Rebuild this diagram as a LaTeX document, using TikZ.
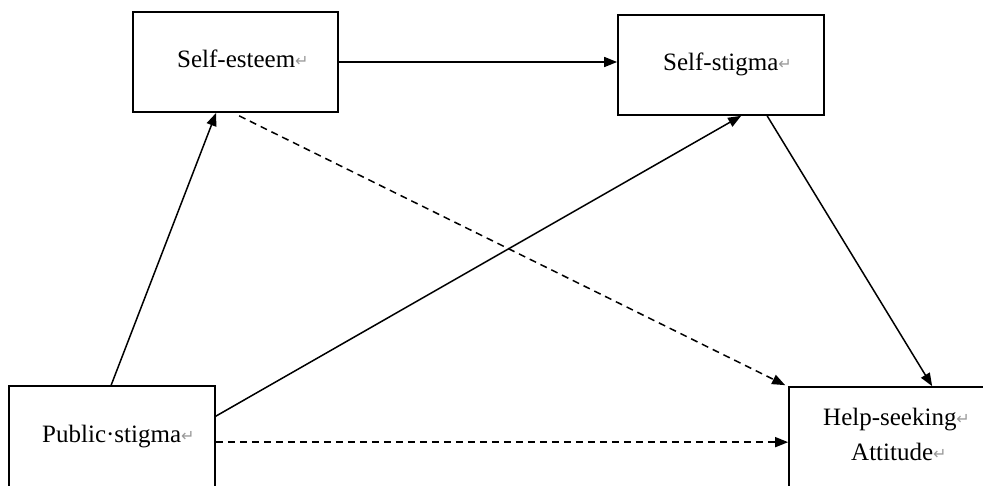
\documentclass[tikz,border=0pt]{standalone}
\usepackage{fontspec}
\setmainfont{Liberation Serif}
\newfontfamily\dejavu{DejaVu Sans}
\usetikzlibrary{arrows.meta}
\newcommand{\retmark}{{\color{black!40}\dejavu\fontsize{16}{16}\selectfont\raisebox{1pt}{↵}}}
\tikzset{
  x=1pt, y=-1pt,
  boxnode/.style={draw, line width=1.7pt, inner sep=0pt, rectangle},
  lbl/.style={anchor=base west, inner sep=0pt, font=\fontsize{25}{30}\selectfont},
  arr/.style={line width=1.5pt, -{Triangle[length=13pt,width=10pt]}},
  darr/.style={arr, dash pattern=on 7pt off 5pt},
}
\begin{document}
\begin{tikzpicture}
\useasboundingbox (0,0) rectangle (983,485);
\clip (0,0) rectangle (983,485);
\fill[white] (0,0) rectangle (983,485);
% boxes
\node[boxnode, minimum width=205pt, minimum height=100pt] (se) at (235.5,62) {};
\node[boxnode, minimum width=206pt, minimum height=100pt] (ss) at (721,65) {};
\node[boxnode, minimum width=206pt, minimum height=140pt] (pub) at (112,456) {};
\node[boxnode, minimum width=240pt, minimum height=140pt] (hs) at (909,457) {};
% labels
\node[lbl] (tse) at (177,67) {Self-esteem\retmark};
\node[lbl] (tss) at (663,70) {Self-stigma\retmark};
\node[lbl] (tpub) at (42,442) {Public·stigma\retmark};
\node[lbl] (ths1) at (823,425) {Help-seeking\retmark};
\node[lbl] (ths2) at (851,460) {Attitude\retmark};
% connectors
\draw[arr] (se.east) -- (se.east -| ss.west);
\draw[arr] ([xshift=103pt]pub.north west) -- ([xshift=84pt]se.south west);
\draw[arr] ([yshift=-31pt]pub.north east) -- ([xshift=124pt]ss.south west);
\draw[darr] ([xshift=107pt,yshift=-3pt]se.south west) -- ([xshift=-3pt,yshift=1pt]hs.north west);
\draw[arr] ([xshift=150pt]ss.south west) -- ([xshift=144pt]hs.north west);
\draw[darr] ([yshift=-57pt]pub.north east) -- ([yshift=-56pt]hs.north west);
\end{tikzpicture}
\end{document}
